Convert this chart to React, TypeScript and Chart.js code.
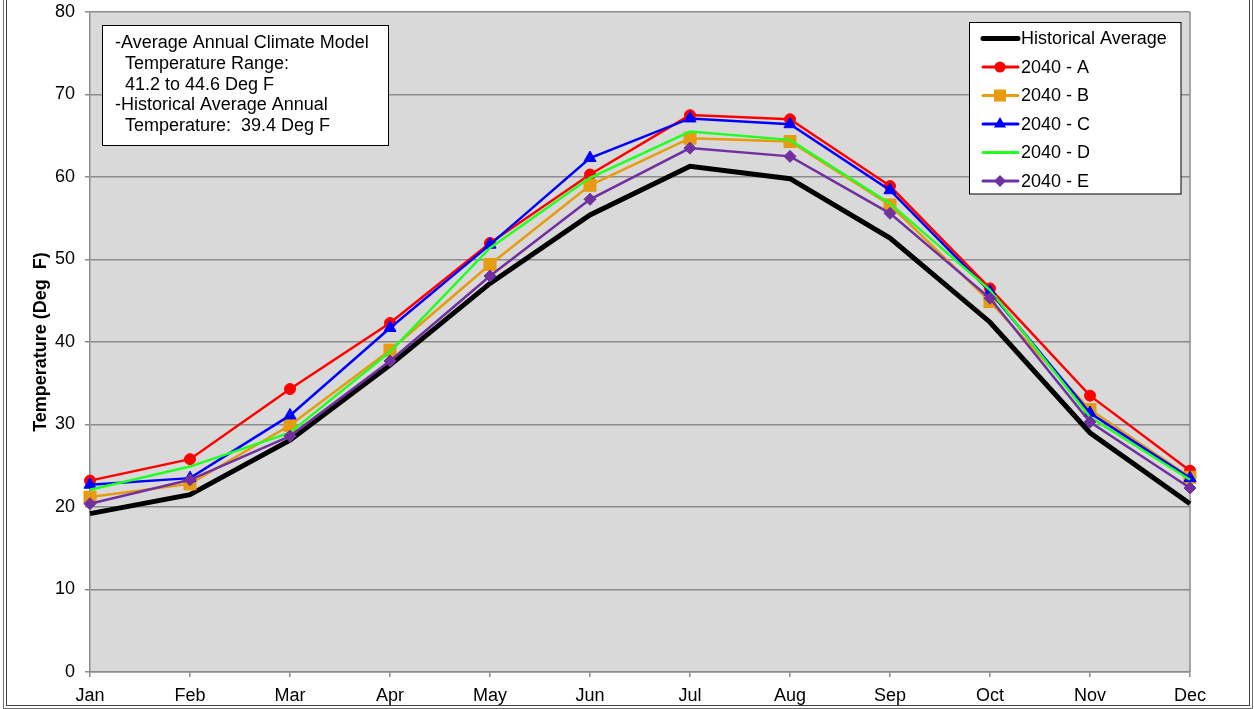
import React, { useEffect, useRef } from 'react';
import { Chart, registerables } from 'chart.js';

Chart.register(...registerables);

const months = ['Jan', 'Feb', 'Mar', 'Apr', 'May', 'Jun', 'Jul', 'Aug', 'Sep', 'Oct', 'Nov', 'Dec'];

const historical = [19.2, 21.5, 28.1, 37.2, 47.1, 55.4, 61.3, 59.8, 52.6, 42.4, 29.0, 20.4];
const series2040A = [23.2, 25.8, 34.3, 42.3, 52.0, 60.3, 67.5, 67.0, 58.9, 46.5, 33.5, 24.4];
const series2040B = [21.2, 22.8, 29.9, 39.0, 49.4, 59.0, 64.7, 64.3, 56.6, 44.9, 31.8, 23.6];
const series2040C = [22.7, 23.5, 31.1, 41.7, 51.8, 62.3, 67.1, 66.4, 58.4, 46.1, 31.4, 23.5];
const series2040D = [22.1, 24.9, 29.0, 38.8, 51.4, 59.9, 65.5, 64.5, 56.8, 46.3, 30.9, 23.3];
const series2040E = [20.4, 23.3, 28.6, 37.7, 48.0, 57.3, 63.5, 62.5, 55.6, 45.3, 30.3, 22.3];

const seriesNames = ['Historical Average', '2040 - A', '2040 - B', '2040 - C', '2040 - D', '2040 - E'];

const annotationLines = [
  '-Average Annual Climate Model',
  '  Temperature Range:',
  '  41.2 to 44.6 Deg F',
  '-Historical Average Annual',
  '  Temperature:  39.4 Deg F',
];

const yMin = 0;
const yMax = 80;
const yStep = 10;

const FONT = '"Liberation Sans", Arial, Helvetica, sans-serif';
const GRID = '#8c8c8c';

type Style = { color: string; width: number; marker: string | null; radius: number };
const styles: Style[] = [
  { color: '#000000', width: 5, marker: null, radius: 0 },
  { color: '#FF0000', width: 2.5, marker: 'circle', radius: 5.5 },
  { color: '#E69B10', width: 2.5, marker: 'rect', radius: 8.5 },
  { color: '#0000FF', width: 2.5, marker: 'triangle', radius: 7 },
  { color: '#22FF22', width: 2.5, marker: null, radius: 0 },
  { color: '#7030A0', width: 2.5, marker: 'rectRot', radius: 6 },
];

function drawMarker(ctx: CanvasRenderingContext2D, kind: string, x: number, y: number, r: number, color: string) {
  ctx.save();
  ctx.fillStyle = color;
  ctx.beginPath();
  if (kind === 'circle') {
    ctx.arc(x, y, r, 0, Math.PI * 2);
  } else if (kind === 'rect') {
    const s = r * Math.SQRT1_2;
    ctx.rect(x - s, y - s, 2 * s, 2 * s);
  } else if (kind === 'triangle') {
    const a = (2 * Math.PI) / 3;
    ctx.moveTo(x, y - r);
    ctx.lineTo(x + Math.sin(a) * r, y - Math.cos(a) * r);
    ctx.lineTo(x + Math.sin(2 * a) * r, y - Math.cos(2 * a) * r);
    ctx.closePath();
  } else if (kind === 'rectRot') {
    ctx.moveTo(x, y - r);
    ctx.lineTo(x + r, y);
    ctx.lineTo(x, y + r);
    ctx.lineTo(x - r, y);
    ctx.closePath();
  }
  ctx.fill();
  ctx.restore();
}

export default function App() {
  const ref = useRef<HTMLCanvasElement>(null);

  useEffect(() => {
    const canvas = ref.current;
    if (!canvas) return;

    const allData = [historical, series2040A, series2040B, series2040C, series2040D, series2040E];

    const decorPlugin = {
      id: 'decor',
      beforeDraw(chart: any) {
        const { ctx, chartArea: a } = chart;
        ctx.save();
        ctx.fillStyle = '#FFFFFF';
        ctx.fillRect(0, 0, chart.width, chart.height);
        ctx.fillStyle = '#D9D9D9';
        ctx.fillRect(a.left, a.top, a.right - a.left, a.bottom - a.top);
        ctx.restore();
      },
      beforeDatasetsDraw(chart: any) {
        const { ctx, chartArea: a } = chart;
        ctx.save();
        ctx.strokeStyle = GRID;
        ctx.lineWidth = 1.5;
        ctx.beginPath();
        ctx.moveTo(a.right, a.top);
        ctx.lineTo(a.right, a.bottom);
        ctx.stroke();
        ctx.restore();
      },
      afterDraw(chart: any) {
        const { ctx } = chart;
        ctx.save();
        // annotation box
        ctx.fillStyle = '#FFFFFF';
        ctx.fillRect(102.5, 25.5, 286, 120);
        ctx.strokeStyle = '#000000';
        ctx.lineWidth = 1;
        ctx.strokeRect(102.5, 25.5, 286, 120);
        ctx.fillStyle = '#000000';
        ctx.font = `18px ${FONT}`;
        ctx.textBaseline = 'middle';
        ctx.textAlign = 'left';
        annotationLines.forEach((t, i) => {
          ctx.fillText(t, 115, 43 + i * 20.8);
        });

        // legend box
        ctx.fillStyle = '#FFFFFF';
        ctx.fillRect(969.5, 22.5, 211.5, 171.5);
        ctx.strokeStyle = '#000000';
        ctx.lineWidth = 1;
        ctx.strokeRect(969.5, 22.5, 211.5, 171.5);
        seriesNames.forEach((name, i) => {
          const st = styles[i];
          const y = 38.5 + i * 28.5;
          ctx.save();
          ctx.strokeStyle = st.color;
          ctx.lineWidth = st.width === 5 ? 5 : 3;
          ctx.lineCap = 'round';
          ctx.beginPath();
          ctx.moveTo(983, y);
          ctx.lineTo(1018, y);
          ctx.stroke();
          ctx.restore();
          if (st.marker) drawMarker(ctx, st.marker, 1000, y, st.radius, st.color);
          ctx.fillStyle = '#000000';
          ctx.font = `18px ${FONT}`;
          ctx.textBaseline = 'middle';
          ctx.fillText(name, 1021, y + 1);
        });

        // outer frame (double line)
        ctx.strokeStyle = '#707070';
        ctx.lineWidth = 1;
        ctx.strokeRect(3.5, -5, 1249, 713.5);
        ctx.strokeStyle = '#404040';
        ctx.strokeRect(6.5, -5, 1243, 710.5);
        ctx.restore();
      },
    };

    const datasets = allData.map((d, i) => {
      const st = styles[i];
      return {
        label: seriesNames[i],
        data: d,
        borderColor: st.color,
        backgroundColor: st.color,
        borderWidth: st.width,
        pointStyle: st.marker || 'circle',
        pointRadius: st.marker ? st.radius : 0,
        pointHoverRadius: st.marker ? st.radius : 0,
        pointBorderWidth: 1,
        pointBorderColor: st.color,
        pointBackgroundColor: st.color,
        tension: 0,
        fill: false,
        clip: false as any,
        order: allData.length - 1 - i,
      };
    });

    const chart = new Chart(canvas, {
      type: 'line',
      data: { labels: months, datasets },
      options: {
        responsive: false,
        animation: false,
        devicePixelRatio: 1,
        layout: { padding: { left: 0, right: 64, top: 12, bottom: 0 } },
        plugins: {
          legend: { display: false },
          tooltip: { enabled: false },
        },
        scales: {
          x: {
            offset: false,
            ticks: {
              color: '#000000',
              font: { family: FONT, size: 18 },
              padding: 8,
              maxRotation: 0,
              autoSkip: false,
            },
            grid: { display: true, drawOnChartArea: false, tickLength: 5, color: GRID, lineWidth: 1.5 },
            border: { color: GRID, width: 1.5 },
            afterFit: (s: any) => {
              s.height = 37;
            },
          },
          y: {
            min: yMin,
            max: yMax,
            ticks: {
              stepSize: yStep,
              color: '#000000',
              font: { family: FONT, size: 18 },
              padding: 10,
            },
            grid: { color: GRID, lineWidth: 1.5, tickLength: 5 },
            border: { color: GRID, width: 1.5 },
            title: {
              display: true,
              text: 'Temperature (Deg  F)',
              color: '#000000',
              font: { family: FONT, size: 18, weight: 'bold' },
              padding: { top: 30, bottom: 0 },
            },
            afterFit: (s: any) => {
              s.width = 90;
              s.paddingTop = 0;
              s.paddingBottom = 0;
            },
          },
        },
      },
      plugins: [decorPlugin],
    });

    return () => chart.destroy();
  }, []);

  return (
    <div style={{ position: 'absolute', left: 0, top: 0, width: 1254, height: 709, background: '#fff' }}>
      <canvas ref={ref} width={1254} height={709} style={{ display: 'block', width: 1254, height: 709 }} />
    </div>
  );
}
